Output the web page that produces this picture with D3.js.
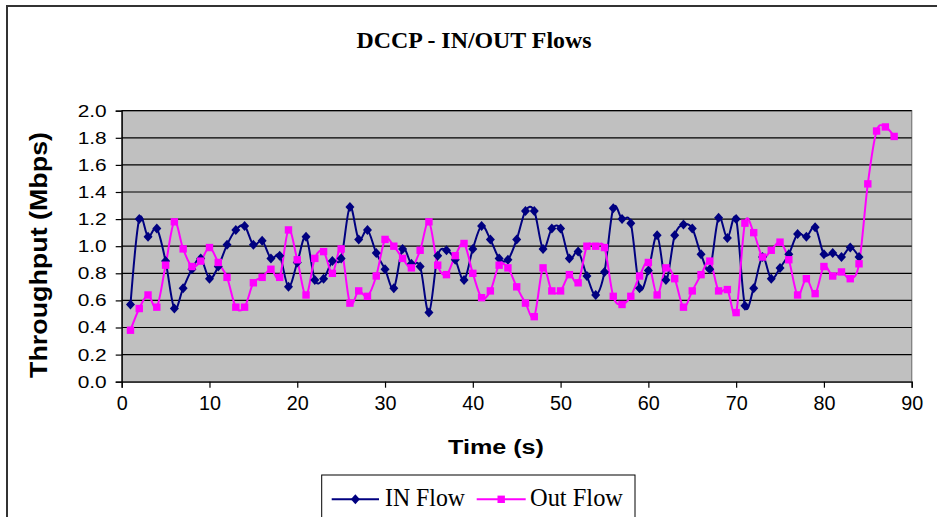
<!DOCTYPE html>
<html>
<head>
<meta charset="utf-8">
<script src="https://cdn.jsdelivr.net/npm/d3@7"></script>
<style>
  body { margin: 0; background: #fff; }
  svg { display: block; }
</style>
</head>
<body>
<svg id="chart" width="937" height="517"></svg>
<script>
// time axis is seconds 1..n
const inFlow = [0.57, 1.20, 1.07, 1.13, 0.89, 0.54, 0.69, 0.83, 0.91, 0.76,
  0.85, 1.01, 1.12, 1.15, 1.01, 1.04, 0.91, 0.93, 0.70, 0.88,
  1.07, 0.75, 0.76, 0.89, 0.91, 1.29, 1.05, 1.12, 0.95, 0.83,
  0.69, 0.98, 0.87, 0.85, 0.51, 0.93, 0.97, 0.90, 0.75, 0.98,
  1.15, 1.05, 0.91, 0.90, 1.05, 1.26, 1.26, 0.98, 1.13, 1.13,
  0.91, 0.96, 0.78, 0.64, 0.81, 1.28, 1.20, 1.17, 0.69, 0.82,
  1.08, 0.75, 1.08, 1.16, 1.13, 0.94, 0.83, 1.21, 1.06, 1.20,
  0.56, 0.69, 0.92, 0.76, 0.84, 0.94, 1.09, 1.07, 1.14, 0.94,
  0.95, 0.92, 0.99, 0.92];
const outFlow = [0.38, 0.54, 0.64, 0.55, 0.86, 1.18, 0.98, 0.85, 0.89, 0.99,
  0.88, 0.77, 0.55, 0.55, 0.73, 0.77, 0.83, 0.77, 1.12, 0.90,
  0.64, 0.91, 0.96, 0.80, 0.98, 0.58, 0.67, 0.63, 0.78, 1.05,
  1.00, 0.91, 0.84, 0.97, 1.18, 0.86, 0.79, 0.93, 1.02, 0.80,
  0.62, 0.67, 0.86, 0.84, 0.70, 0.58, 0.48, 0.84, 0.67, 0.67,
  0.79, 0.73, 1.00, 1.00, 0.99, 0.63, 0.57, 0.63, 0.78, 0.88,
  0.64, 0.84, 0.76, 0.55, 0.67, 0.79, 0.89, 0.67, 0.68, 0.51,
  1.17, 1.10, 0.92, 0.97, 1.03, 0.90, 0.64, 0.76, 0.65, 0.85,
  0.78, 0.81, 0.76, 0.87, 1.46, 1.85, 1.88, 1.81];
const xTicks = [0, 10, 20, 30, 40, 50, 60, 70, 80, 90];
const yTicks = [0, 0.2, 0.4, 0.6, 0.8, 1.0, 1.2, 1.4, 1.6, 1.8, 2.0];

const svg = d3.select('#chart');
const plot = { left: 121.7, right: 911.7, top: 110.7, bottom: 381.7 };

const x = d3.scaleLinear().domain([0, 90]).range([plot.left, plot.right]);
const y = d3.scaleLinear().domain([0, 2]).range([plot.bottom, plot.top]);

// outer chart border (runs off the right and bottom edges)
svg.append('rect')
  .attr('x', 7).attr('y', 6).attr('width', 1000).attr('height', 600)
  .attr('fill', '#fff').attr('stroke', '#333').attr('stroke-width', 2);

// plot background
svg.append('rect')
  .attr('x', plot.left).attr('y', plot.top)
  .attr('width', plot.right - plot.left).attr('height', plot.bottom - plot.top)
  .attr('fill', '#c0c0c0').attr('stroke', '#808080').attr('stroke-width', 1.3);

// gridlines
svg.append('g').selectAll('line').data(yTicks.filter(d => d > 0))
  .enter().append('line')
    .attr('x1', plot.left).attr('x2', plot.right)
    .attr('y1', d => y(d)).attr('y2', d => y(d))
    .attr('stroke', '#000').attr('stroke-width', 1.2);

// y axis
const yAxis = svg.append('g')
  .attr('transform', `translate(${plot.left},0)`)
  .call(d3.axisLeft(y).tickValues(yTicks).tickSize(6).tickPadding(9).tickFormat(d3.format('.1f')));
yAxis.select('.domain').attr('stroke', '#000').attr('stroke-width', 1.3);
yAxis.selectAll('.tick line').attr('stroke', '#000').attr('stroke-width', 1.2);
yAxis.selectAll('.tick text')
  .attr('font-family', 'Arial, "Liberation Sans", sans-serif')
  .attr('font-size', 17).attr('fill', '#000')
  .attr('textLength', 29).attr('lengthAdjust', 'spacingAndGlyphs');

// x axis
const xAxis = svg.append('g')
  .attr('transform', `translate(0,${plot.bottom})`)
  .call(d3.axisBottom(x).tickValues(xTicks).tickSize(6).tickPadding(8).tickFormat(d3.format('d')));
xAxis.select('.domain').attr('stroke', '#000').attr('stroke-width', 1.3);
xAxis.selectAll('.tick line').attr('stroke', '#000').attr('stroke-width', 1.2);
xAxis.selectAll('.tick text')
  .attr('font-family', 'Arial, "Liberation Sans", sans-serif')
  .attr('font-size', 20).attr('fill', '#000')
  .attr('textLength', d => String(d).length * 11).attr('lengthAdjust', 'spacingAndGlyphs');

// smoothed series lines
const line = d3.line()
  .x((d, i) => x(i + 1))
  .y(d => y(d))
  .curve(d3.curveCardinal);

svg.append('path').datum(inFlow)
  .attr('d', line).attr('fill', 'none')
  .attr('stroke', '#000080').attr('stroke-width', 2);

svg.append('path').datum(outFlow)
  .attr('d', line).attr('fill', 'none')
  .attr('stroke', '#ff00ff').attr('stroke-width', 2);

const diamond = 'M0,-5L4.5,0L0,5L-4.5,0Z';

svg.append('g').selectAll('path').data(inFlow)
  .enter().append('path')
    .attr('d', diamond)
    .attr('transform', (d, i) => `translate(${x(i + 1)},${y(d)})`)
    .attr('fill', '#000080');

svg.append('g').selectAll('rect').data(outFlow)
  .enter().append('rect')
    .attr('x', (d, i) => x(i + 1) - 3.7)
    .attr('y', d => y(d) - 3.7)
    .attr('width', 7.4).attr('height', 7.4)
    .attr('fill', '#ff00ff');

// titles
svg.append('text')
  .attr('x', 474).attr('y', 48)
  .attr('text-anchor', 'middle')
  .attr('font-family', '"Times New Roman", "Liberation Serif", serif')
  .attr('font-weight', 'bold').attr('font-size', 23)
  .attr('textLength', 235).attr('lengthAdjust', 'spacingAndGlyphs')
  .text('DCCP - IN/OUT Flows');

svg.append('text')
  .attr('x', 496).attr('y', 454)
  .attr('text-anchor', 'middle')
  .attr('font-family', 'Arial, "Liberation Sans", sans-serif')
  .attr('font-weight', 'bold').attr('font-size', 20)
  .attr('textLength', 96).attr('lengthAdjust', 'spacingAndGlyphs')
  .text('Time (s)');

svg.append('text')
  .attr('transform', 'translate(47,255) rotate(-90)')
  .attr('text-anchor', 'middle')
  .attr('font-family', 'Arial, "Liberation Sans", sans-serif')
  .attr('font-weight', 'bold').attr('font-size', 23)
  .attr('textLength', 246).attr('lengthAdjust', 'spacingAndGlyphs')
  .text('Throughput (Mbps)');

// legend
const legend = svg.append('g');
legend.append('rect')
  .attr('x', 321.7).attr('y', 475).attr('width', 313.3).attr('height', 80)
  .attr('fill', '#fff').attr('stroke', '#000').attr('stroke-width', 1);

const legendItems = [
  { name: 'IN Flow', color: '#000080', x0: 331.7, x1: 379, tx: 385, tw: 80 },
  { name: 'Out Flow', color: '#ff00ff', x0: 476.7, x1: 525.7, tx: 530, tw: 93 }
];
legendItems.forEach((item, i) => {
  const cx = (item.x0 + item.x1) / 2;
  legend.append('line')
    .attr('x1', item.x0).attr('x2', item.x1).attr('y1', 499.3).attr('y2', 499.3)
    .attr('stroke', item.color).attr('stroke-width', 2);
  if (i === 0) {
    legend.append('path').attr('d', diamond)
      .attr('transform', `translate(${cx},499.3)`).attr('fill', item.color);
  } else {
    legend.append('rect')
      .attr('x', cx - 3.7).attr('y', 499.3 - 3.7).attr('width', 7.4).attr('height', 7.4)
      .attr('fill', item.color);
  }
  legend.append('text')
    .attr('x', item.tx).attr('y', 506)
    .attr('font-family', '"Times New Roman", "Liberation Serif", serif')
    .attr('font-size', 26)
    .attr('textLength', item.tw).attr('lengthAdjust', 'spacingAndGlyphs')
    .text(item.name);
});
</script>
</body>
</html>
